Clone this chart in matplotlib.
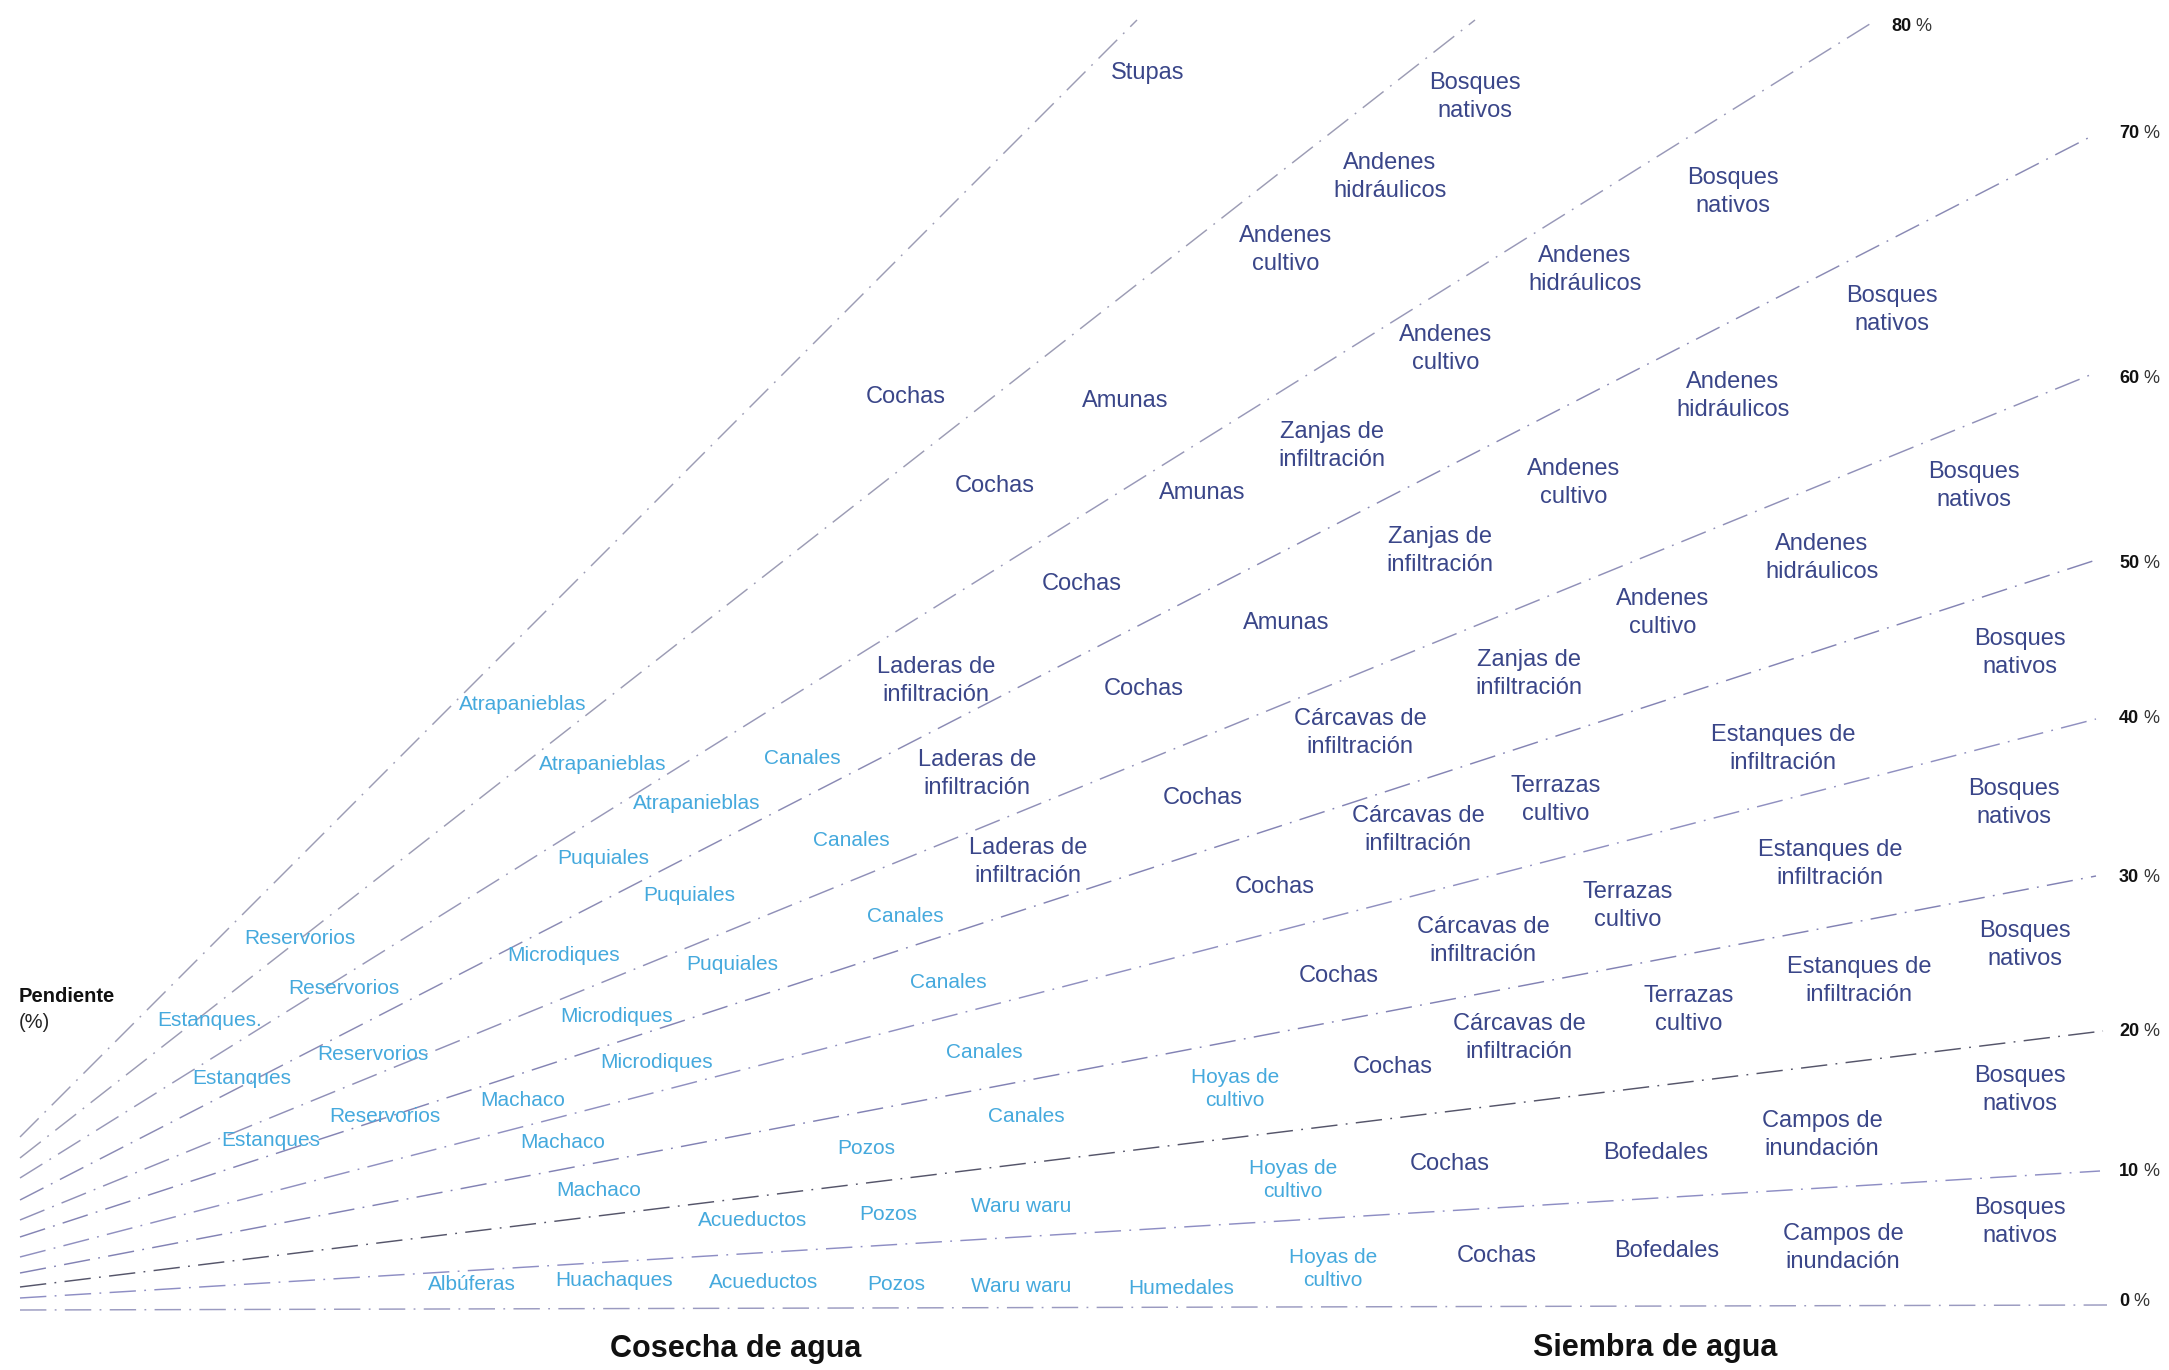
import matplotlib.pyplot as plt
from matplotlib import font_manager

# --- lineas de pendiente (coordenadas del dibujo, eje y hacia abajo) ---
pend_labels = ["0", "10", "20", "30", "40", "50", "60", "70", "80", "", ""]
line_x0 = [20, 20, 20, 20, 20, 20, 20, 20, 20, 20, 20]
line_y0 = [1310, 1298, 1287, 1273, 1257, 1237, 1220, 1200, 1178, 1158, 1137]
line_x1 = [2107, 2100, 2103, 2096, 2096, 2096, 2090, 2090, 1873, 1475, 1137]
line_y1 = [1305, 1171, 1031, 876, 719, 560, 375, 137, 22, 20, 20]
line_col = ["#9a9ac0", "#8e8ec4", "#55556a", "#8282b4", "#9090c0", "#8484b4",
            "#9090b8", "#8a8ab4", "#9898b8", "#9c9cb4", "#9c9cb4"]
pend_lab_x = [2119, 2119, 2119, 2119, 2119, 2119, 2119, 2119, 1891]
pend_lab_y = [1301, 1172, 1031, 877, 718, 563, 378, 133, 26]

# --- Cosecha de agua (celeste) ---
cosecha = ["Atrapanieblas", "Atrapanieblas", "Canales", "Atrapanieblas", "Canales",
           "Puquiales", "Puquiales", "Canales", "Reservorios", "Microdiques",
           "Puquiales", "Canales", "Reservorios", "Estanques.", "Microdiques",
           "Canales", "Reservorios", "Microdiques", "Hoyas de\ncultivo", "Estanques",
           "Machaco", "Reservorios", "Canales", "Estanques", "Machaco",
           "Pozos", "Hoyas de\ncultivo", "Machaco", "Waru waru", "Acueductos",
           "Pozos", "Hoyas de\ncultivo", "Albúferas", "Huachaques", "Acueductos",
           "Pozos", "Waru waru", "Humedales"]
cosecha_x = [523, 603, 802, 697, 851, 603, 689, 905, 300, 564,
             732, 948, 344, 210, 617, 984, 373, 657, 1235, 242,
             523, 385, 1026, 271, 563, 866, 1293, 599, 1021, 753,
             888, 1333, 472, 614, 764, 896, 1021, 1181]
cosecha_y = [704, 764, 758, 803, 840, 858, 895, 916, 938, 955,
             964, 982, 988, 1020, 1017, 1052, 1054, 1063, 1089, 1078,
             1101, 1117, 1117, 1140, 1143, 1148, 1180, 1191, 1207, 1220,
             1215, 1269, 1285, 1281, 1282, 1284, 1287, 1288]

# --- Siembra de agua (azul oscuro) ---
siembra = ["Stupas", "Bosques\nnativos", "Andenes\nhidráulicos", "Bosques\nnativos",
           "Andenes\ncultivo", "Andenes\nhidráulicos", "Bosques\nnativos",
           "Andenes\ncultivo", "Andenes\nhidráulicos", "Cochas", "Amunas",
           "Zanjas de\ninfiltración", "Andenes\ncultivo", "Bosques\nnativos",
           "Cochas", "Amunas", "Zanjas de\ninfiltración", "Andenes\nhidráulicos",
           "Cochas", "Amunas", "Andenes\ncultivo", "Zanjas de\ninfiltración",
           "Bosques\nnativos", "Laderas de\ninfiltración", "Cochas",
           "Cárcavas de\ninfiltración", "Estanques de\ninfiltración",
           "Laderas de\ninfiltración", "Cochas", "Terrazas\ncultivo",
           "Bosques\nnativos", "Cárcavas de\ninfiltración", "Laderas de\ninfiltración",
           "Estanques de\ninfiltración", "Cochas", "Terrazas\ncultivo",
           "Cárcavas de\ninfiltración", "Bosques\nnativos", "Cochas",
           "Estanques de\ninfiltración", "Terrazas\ncultivo", "Cárcavas de\ninfiltración",
           "Cochas", "Bosques\nnativos", "Campos de\ninundación", "Bofedales",
           "Cochas", "Bosques\nnativos", "Cochas", "Bofedales", "Campos de\ninundación"]
siembra_x = [1148, 1475, 1390, 1733, 1286, 1585, 1892, 1446, 1733, 906,
             1125, 1332, 1574, 1974, 995, 1202, 1440, 1822, 1082, 1286,
             1663, 1529, 2020, 936, 1144, 1360, 1783, 977, 1203, 1556,
             2014, 1418, 1028, 1830, 1275, 1628, 1483, 2025, 1339, 1859,
             1689, 1519, 1393, 2020, 1822, 1656, 1450, 2020, 1497, 1667, 1843]
siembra_y = [73, 97, 177, 192, 250, 270, 310, 349, 396, 397,
             401, 446, 483, 486, 486, 493, 551, 558, 584, 623,
             613, 674, 653, 681, 689, 733, 749, 774, 798, 800,
             803, 830, 862, 864, 887, 906, 941, 945, 976, 981,
             1010, 1038, 1067, 1090, 1135, 1153, 1164, 1222, 1256, 1251, 1248]

CELESTE = "#45a9dd"
AZUL = "#3a4689"

plt.rcParams['font.family'] = ['Liberation Sans', 'DejaVu Sans']
plt.rcParams['lines.scale_dashes'] = False

nombres = {f.name for f in font_manager.fontManager.ttflist}
if 'Liberation Sans Narrow' in nombres:
    tit_font, tit_size = ['Liberation Sans Narrow', 'Liberation Sans'], 27
else:
    tit_font, tit_size = ['Liberation Sans', 'DejaVu Sans'], 22

fig = plt.figure(figsize=(21.69, 13.70), dpi=100)
ax = fig.add_axes([0, 0, 1, 1])
ax.set_xlim(0, 2169)
ax.set_ylim(1370, 0)
ax.axis('off')

for i in range(len(line_x0)):
    ax.plot([line_x0[i], line_x1[i]], [line_y0[i], line_y1[i]],
            color=line_col[i], lw=1.05, ls=(0, (19, 6, 1.3, 6)))

for i in range(len(pend_lab_x)):
    t = ax.text(pend_lab_x[i], pend_lab_y[i], pend_labels[i], fontsize=13,
                fontweight='bold', ha='left', va='center', color='#111111')
    ax.annotate(' %', xy=(1, 0), xycoords=t, ha='left', va='bottom',
                fontsize=13, color='#333333')

for name, x, y in zip(cosecha, cosecha_x, cosecha_y):
    ax.text(x, y, name, fontsize=15, color=CELESTE, ha='center', va='center',
            linespacing=1.33)

for name, x, y in zip(siembra, siembra_x, siembra_y):
    ax.text(x, y, name, fontsize=17, color=AZUL, ha='center', va='center',
            linespacing=1.36)

ax.text(19, 996, "Pendiente", fontsize=14.5, fontweight='bold', ha='left',
        va='center', color='#111111')
ax.text(19, 1023, "(%)", fontsize=14.5, ha='left', va='center', color='#222222')

ax.text(736, 1349, "Cosecha de agua", fontsize=tit_size, fontweight='bold',
        family=tit_font, ha='center', va='center', color='#111111')
ax.text(1655, 1348, "Siembra de agua", fontsize=tit_size, fontweight='bold',
        family=tit_font, ha='center', va='center', color='#111111')

fig.savefig("out.png", dpi=100, facecolor='white')
